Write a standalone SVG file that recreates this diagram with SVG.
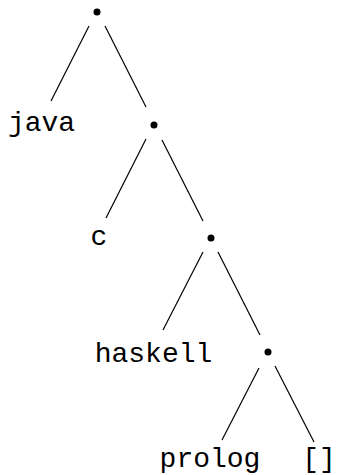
<svg xmlns="http://www.w3.org/2000/svg" width="337" height="475" viewBox="0 0 337 475">
<style>
.t{font-family:"Liberation Mono","Courier New",monospace;font-size:28px;fill:#000;text-anchor:middle}
.e{stroke:#000;stroke-width:1.2;fill:none}
.d{fill:#000}
</style>
<rect width="337" height="475" fill="#fff"/>
<g id="edges">
<line class="e" x1="89" y1="26" x2="51" y2="101"/>
<line class="e" x1="105" y1="26" x2="146" y2="107"/>
<line class="e" x1="146" y1="139" x2="106" y2="218"/>
<line class="e" x1="162" y1="140" x2="203" y2="221"/>
<line class="e" x1="203" y1="252" x2="163" y2="330"/>
<line class="e" x1="218" y1="252" x2="260" y2="335"/>
<line class="e" x1="259" y1="368" x2="222" y2="440"/>
<line class="e" x1="275" y1="366" x2="314" y2="442"/>
</g>
<g id="n1"><circle class="d" cx="97" cy="12" r="3.5"/></g>
<g id="java"><text class="t" x="41.5" y="131">java</text></g>
<g id="n2"><circle class="d" cx="154" cy="125" r="3.5"/></g>
<g id="c"><text class="t" x="99" y="245">c</text></g>
<g id="n3"><circle class="d" cx="211" cy="238" r="3.5"/></g>
<g id="haskell"><text class="t" x="153.5" y="362">haskell</text></g>
<g id="n4"><circle class="d" cx="268" cy="352" r="3.5"/></g>
<g id="prolog"><text class="t" x="210" y="467">prolog</text></g>
<g id="nil"><text class="t" x="319" y="467">[]</text></g>
</svg>
